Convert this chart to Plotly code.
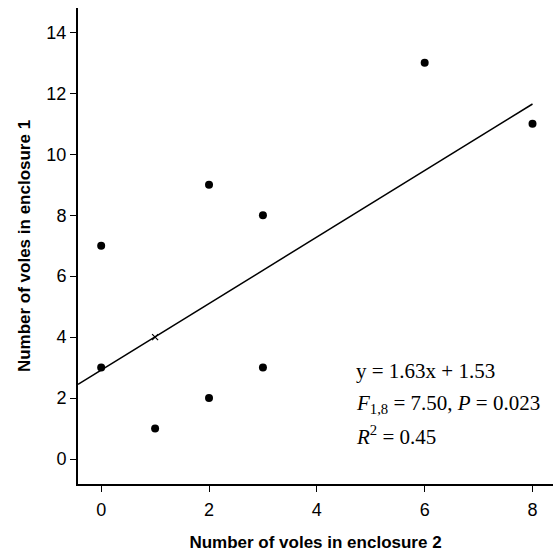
import plotly.graph_objects as go

x_vals = [0, 0, 1, 2, 2, 3, 3, 6, 8]
y_vals = [7, 3, 1, 9, 2, 8, 3, 13, 11]
cross_x = [1]
cross_y = [4]
line_x = [-0.43, 8.0]
line_y = [2.45, 11.65]
x_ticks = [0, 2, 4, 6, 8]
y_ticks = [0, 2, 4, 6, 8, 10, 12, 14]

W, H = 553, 556
ml, mr, mt, mb = 78, 0, 8, 72

fig = go.Figure()
fig.add_trace(go.Scatter(x=line_x, y=line_y, mode="lines",
                         line=dict(color="black", width=1.5), showlegend=False))
fig.add_trace(go.Scatter(x=x_vals, y=y_vals, mode="markers",
                         marker=dict(color="black", size=8), showlegend=False))
fig.add_trace(go.Scatter(x=cross_x, y=cross_y, mode="markers",
                         marker=dict(color="black", size=6, symbol="x-thin",
                                     line=dict(width=1.2, color="black")),
                         showlegend=False))

serif = dict(family="Liberation Serif, Times New Roman, serif", size=21, color="black")
anns = [
    ("y = 1.63x + 1.53", 371),
    ("<i>F</i><sub>1,8</sub> = 7.50, <i>P</i> = 0.023", 404),
    ("<i>R</i><sup>2</sup> = 0.45", 435),
]
for txt, py in anns:
    fig.add_annotation(x=(354 - ml) / (W - ml - mr), y=1 - (py - mt) / (H - mt - mb),
                       xref="paper", yref="paper", text=txt, showarrow=False,
                       font=serif, xanchor="left", yanchor="middle")

tick_font = dict(family="Liberation Sans, Arial, sans-serif", size=18, color="black")
title_font = dict(family="Liberation Sans, Arial, sans-serif", size=17, color="black")
fig.update_xaxes(range=[-0.43, 8.38], tickvals=x_ticks, ticks="outside", ticklen=6,
                 tickcolor="black", showline=True, linecolor="black", linewidth=2,
                 showgrid=False, zeroline=False, tickfont=tick_font, automargin=False,
                 ticklabelstandoff=2,
                 title=dict(text="<b>Number of voles in enclosure 2</b>", font=title_font, standoff=18))
fig.update_yaxes(range=[-0.82, 14.8], tickvals=y_ticks, ticks="outside", ticklen=6,
                 tickcolor="black", showline=True, linecolor="black", linewidth=2,
                 showgrid=False, zeroline=False, tickfont=tick_font, automargin=False,
                 ticklabelstandoff=0,
                 title=dict(text="<b>Number of voles in enclosure 1</b>", font=title_font, standoff=11))
fig.update_layout(width=W, height=H, margin=dict(l=ml, r=mr, t=mt, b=mb),
                  plot_bgcolor="white", paper_bgcolor="white")
fig.write_html("out.html", config={"displayModeBar": False},
               post_script="document.body.style.margin='0';")
